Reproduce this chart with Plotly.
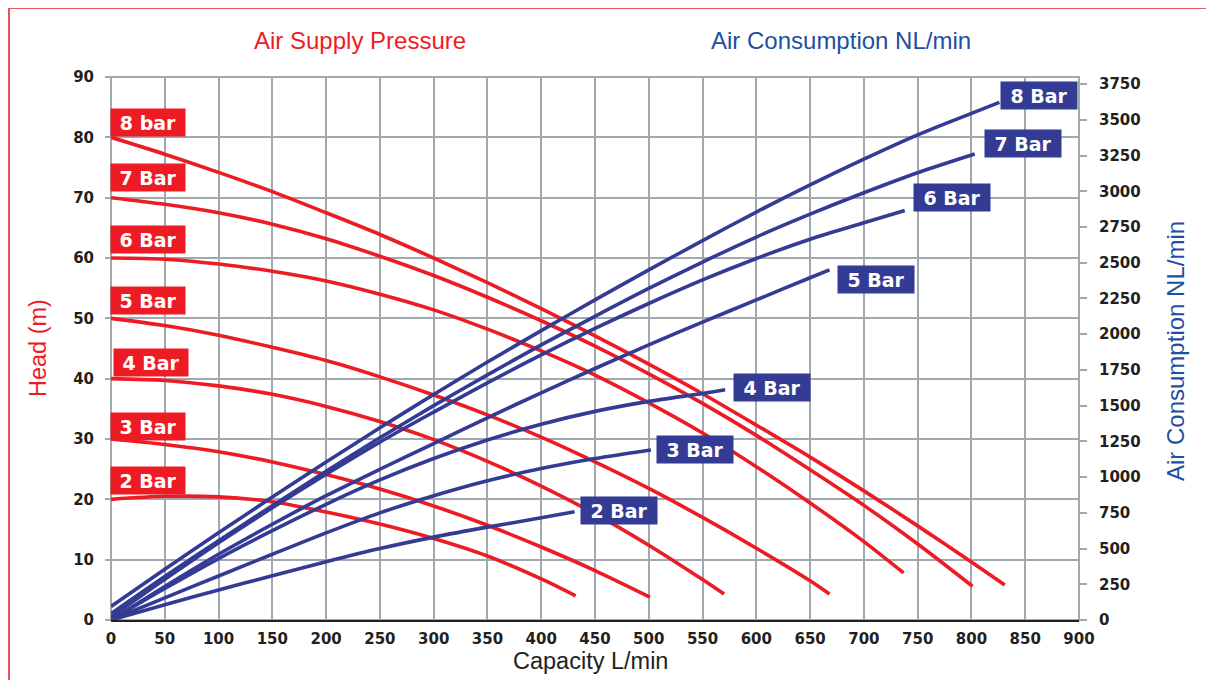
import plotly.graph_objects as go

# ---------------- data ----------------
# Head (m) curves vs capacity (L/min) for each air supply pressure
cap_8 = [0, 50, 100, 150, 200, 250, 300, 350, 400, 450, 500, 550, 600, 650, 700, 750, 800, 831]
head_8 = [80, 77.2, 74.2, 71.0, 67.5, 63.9, 60.0, 55.9, 51.6, 47.1, 42.4, 37.5, 32.3, 27.0, 21.4, 15.6, 9.6, 5.8]

cap_7 = [0, 50, 100, 150, 200, 250, 300, 350, 400, 450, 500, 550, 600, 650, 700, 750, 801]
head_7 = [70, 68.9, 67.5, 65.6, 63.2, 60.3, 57.1, 53.5, 49.6, 45.4, 40.8, 35.9, 30.6, 24.9, 19.0, 12.6, 5.6]

cap_6 = [0, 50, 100, 150, 200, 250, 300, 350, 400, 450, 500, 550, 600, 650, 700, 737]
head_6 = [60, 59.8, 59.0, 57.8, 56.2, 54.0, 51.4, 48.2, 44.6, 40.6, 36.0, 31.0, 25.4, 19.4, 13.0, 7.8]

cap_5 = [0, 50, 100, 150, 200, 250, 300, 350, 400, 450, 500, 550, 600, 650, 668]
head_5 = [50, 48.8, 47.2, 45.2, 43.0, 40.3, 37.3, 34.0, 30.3, 26.2, 21.8, 17.0, 11.9, 6.5, 4.3]

cap_4 = [0, 50, 100, 150, 200, 250, 300, 350, 400, 450, 500, 550, 570]
head_4 = [40, 39.7, 38.8, 37.4, 35.4, 32.9, 29.9, 26.3, 22.2, 17.6, 12.4, 6.7, 4.3]

cap_3 = [0, 50, 100, 150, 200, 250, 300, 350, 400, 450, 501]
head_3 = [30, 29.1, 27.9, 26.2, 24.1, 21.7, 18.9, 15.7, 12.1, 8.2, 3.8]

cap_2 = [0, 50, 100, 150, 200, 250, 300, 350, 400, 432]
head_2 = [20, 20.5, 20.4, 19.6, 17.9, 15.9, 13.5, 10.6, 6.8, 4.0]

# Air consumption (NL/min) vs capacity (L/min)
acap_8 = [0, 50, 100, 150, 200, 250, 300, 350, 400, 450, 500, 550, 600, 650, 700, 750, 800, 826]
air_8 = [95, 355, 610, 860, 1105, 1345, 1578, 1805, 2025, 2240, 2450, 2655, 2855, 3045, 3225, 3395, 3545, 3622]

acap_7 = [0, 50, 100, 150, 200, 250, 300, 350, 400, 450, 500, 550, 600, 650, 700, 750, 803]
air_7 = [45, 305, 555, 800, 1040, 1275, 1500, 1715, 1925, 2125, 2320, 2505, 2680, 2840, 2990, 3130, 3261]

acap_6 = [0, 50, 100, 150, 200, 250, 300, 350, 400, 450, 500, 550, 600, 650, 700, 738]
air_6 = [20, 285, 540, 785, 1020, 1245, 1455, 1660, 1855, 2040, 2215, 2380, 2530, 2665, 2780, 2866]

acap_5 = [0, 50, 100, 150, 200, 250, 300, 350, 400, 450, 500, 550, 600, 650, 668]
air_5 = [0, 235, 460, 670, 870, 1055, 1235, 1415, 1590, 1760, 1925, 2085, 2240, 2395, 2450]

acap_4 = [0, 50, 100, 150, 200, 250, 300, 350, 400, 450, 500, 550, 571]
air_4 = [0, 220, 430, 625, 810, 980, 1130, 1260, 1370, 1460, 1530, 1585, 1611]

acap_3 = [0, 50, 100, 150, 200, 250, 300, 350, 400, 450, 502]
air_3 = [0, 155, 308, 460, 610, 750, 870, 975, 1060, 1130, 1190]

acap_2 = [0, 50, 100, 150, 200, 250, 300, 350, 400, 431]
air_2 = [0, 107, 210, 310, 408, 500, 580, 650, 715, 758]

red_labels = ["8 bar", "7 Bar", "6 Bar", "5 Bar", "4 Bar", "3 Bar", "2 Bar"]
blue_labels = ["8 Bar", "7 Bar", "6 Bar", "5 Bar", "4 Bar", "3 Bar", "2 Bar"]

x_ticks = list(range(0, 901, 50))
y_ticks = list(range(0, 91, 10))
y2_ticks = list(range(0, 3751, 250))

# ---------------- styling ----------------
RED = "#ED1C24"
BLUE = "#343B95"
TITLE_BLUE = "#1F4FA0"
GRID = "#A2A8AF"
DARK = "#231F20"

W, H = 1214, 680
OFF = 8  # page body margin offset
ML, MT = 103, 69
PW, PH = 968, 543
MR = W - ML - PW
MB = H - MT - PH


def px(xp):
    """page pixel x -> paper coordinate"""
    return (xp - OFF - ML) / PW


def py(yp):
    """page pixel y -> paper coordinate"""
    return (MT + PH - (yp - OFF)) / PH


fig = go.Figure()

red_series = [(cap_8, head_8), (cap_7, head_7), (cap_6, head_6), (cap_5, head_5),
              (cap_4, head_4), (cap_3, head_3), (cap_2, head_2)]
blue_series = [(acap_8, air_8), (acap_7, air_7), (acap_6, air_6), (acap_5, air_5),
               (acap_4, air_4), (acap_3, air_3), (acap_2, air_2)]

for (cx, cy), name in zip(red_series, red_labels):
    fig.add_trace(go.Scatter(x=cx, y=cy, mode="lines", name=name,
                             line=dict(color=RED, width=3.6, shape="spline", smoothing=0.8),
                             yaxis="y", showlegend=False, hoverinfo="skip"))

for (cx, cy), name in zip(blue_series, blue_labels):
    fig.add_trace(go.Scatter(x=cx, y=cy, mode="lines", name=name,
                             line=dict(color=BLUE, width=3.6, shape="spline", smoothing=0.8),
                             yaxis="y2", showlegend=False, hoverinfo="skip"))

tickfont = dict(family="DejaVu Sans", size=15, color=DARK, weight="bold")
label_font = dict(family="DejaVu Sans", size=19, color="white", weight="bold")

annotations = []
# red labels at curve starts (pixel offsets for box placement)
red_yshift = [0, 6, 4, 3.5, 2, -2, 4]
red_xshift = [-1, -1, -1, -1, 2, -1, -1]
for (cx, cy), text, ys, xs in zip(red_series, red_labels, red_yshift, red_xshift):
    annotations.append(dict(x=cx[0], y=cy[0], xref="x", yref="y", text=text,
                            showarrow=False, xanchor="left", yanchor="bottom",
                            xshift=xs, yshift=ys, bgcolor=RED, borderpad=3,
                            width=68, height=21, align="center", font=label_font))

# blue labels at curve ends
blue_xshift = [1, 9, 8, 8, 8, 5, 5]
blue_yshift = [7, 10.5, 12.5, -9.5, 2, 0, 1]
for (cx, cy), text, xs, ys in zip(blue_series, blue_labels, blue_xshift, blue_yshift):
    annotations.append(dict(x=cx[-1], y=cy[-1], xref="x", yref="y2", text=text,
                            showarrow=False, xanchor="left", yanchor="middle",
                            xshift=xs, yshift=ys, bgcolor=BLUE, borderpad=3,
                            width=70, height=21, align="center", font=label_font))

# titles
annotations += [
    dict(x=px(360), y=py(40), xref="paper", yref="paper", text="Air Supply Pressure",
         showarrow=False, xanchor="center", yanchor="middle",
         font=dict(family="Liberation Sans", size=24, color=RED)),
    dict(x=px(841), y=py(40), xref="paper", yref="paper", text="Air Consumption NL/min",
         showarrow=False, xanchor="center", yanchor="middle",
         font=dict(family="Liberation Sans", size=24, color=TITLE_BLUE)),
    dict(x=px(38), y=py(348), xref="paper", yref="paper", text="Head (m)",
         showarrow=False, xanchor="center", yanchor="middle", textangle=-90,
         font=dict(family="Liberation Sans", size=23.5, color=RED)),
    dict(x=px(1175), y=py(351), xref="paper", yref="paper", text="Air Consumption NL/min",
         showarrow=False, xanchor="center", yanchor="middle", textangle=-90,
         font=dict(family="Liberation Sans", size=24, color=TITLE_BLUE)),
    dict(x=px(590), y=py(661), xref="paper", yref="paper", text="Capacity L/min",
         showarrow=False, xanchor="center", yanchor="middle",
         font=dict(family="Liberation Sans", size=23.5, color=DARK)),
]

shapes = [
    # plot frame (gray)
    dict(type="rect", xref="paper", yref="paper", x0=0, x1=1, y0=0, y1=1,
         line=dict(color=GRID, width=2), layer="between"),
    # outer red border (left edge as close to the page edge as the svg allows)
    dict(type="rect", xref="paper", yref="paper", x0=px(9), x1=px(1211), y0=py(700), y1=py(8),
         line=dict(color="#E8565C", width=2), layer="below"),
]

fig.update_layout(
    width=W, height=H,
    margin=dict(l=ML, r=MR, t=MT, b=MB),
    paper_bgcolor="white", plot_bgcolor="white",
    showlegend=False,
    xaxis=dict(range=[0, 900], tickvals=x_ticks, ticktext=[str(v) for v in x_ticks],
               showgrid=True, gridcolor=GRID, gridwidth=2,
               showline=True, linecolor=DARK, linewidth=2,
               ticks="", tickfont=tickfont, ticklabelstandoff=4, zeroline=False),
    yaxis=dict(range=[0, 90], tickvals=y_ticks, ticktext=[str(v) for v in y_ticks],
               showgrid=True, gridcolor=GRID, gridwidth=2,
               showline=False, ticks="outside", ticklen=5, tickcolor=GRID, tickwidth=1.5,
               tickfont=tickfont, ticklabelstandoff=8, zeroline=False),
    yaxis2=dict(range=[0, 3800], overlaying="y", side="right",
                tickvals=y2_ticks, ticktext=[str(v) for v in y2_ticks],
                showgrid=False, showline=False, ticks="outside", ticklen=7,
                tickcolor=GRID, tickwidth=1.5, tickfont=tickfont, ticklabelstandoff=9,
                zeroline=False),
    annotations=annotations,
    shapes=shapes,
)

fig.write_html("out.html")
